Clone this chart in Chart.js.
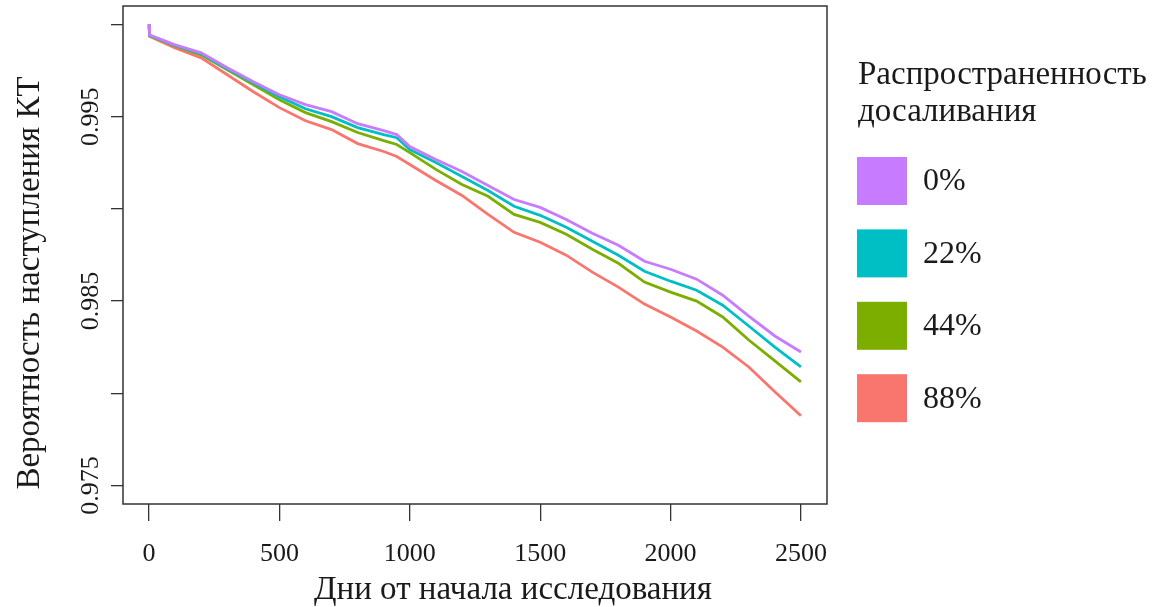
<!DOCTYPE html>
<html>
<head>
<meta charset="utf-8">
<title>Вероятность наступления КТ</title>
<script src="https://cdn.jsdelivr.net/npm/chart.js@4.4.0/dist/chart.umd.min.js"></script>
<style>
  html, body { margin: 0; padding: 0; background: #fff; }
  canvas { display: block; }
</style>
</head>
<body>
<canvas id="km-chart" width="1155" height="607"></canvas>
<script>
// -------- DATA -------- //
const days = [0, 2, 100, 200, 300, 400, 500, 600, 700, 800, 900, 950, 1000, 1100, 1200,
  1300, 1400, 1500, 1600, 1700, 1800, 1900, 2000, 2100, 2200, 2300, 2400, 2500];

const surv0 = [1.0, 0.99943, 0.99889, 0.99846, 0.99765, 0.99689, 0.99619, 0.99565, 0.99527,
  0.99462, 0.99424, 0.99403, 0.99338, 0.99268, 0.99203, 0.99127, 0.99051, 0.99008, 0.98943,
  0.98868, 0.98803, 0.98716, 0.98673, 0.98619, 0.98532, 0.98419, 0.98311, 0.98224];
const surv22 = [1.0, 0.99941, 0.99886, 0.99841, 0.99759, 0.99684, 0.99608, 0.99543, 0.99500,
  0.99441, 0.99403, 0.99386, 0.99322, 0.99251, 0.99176, 0.99100, 0.99014, 0.98965, 0.98900,
  0.98824, 0.98749, 0.98662, 0.98608, 0.98559, 0.98478, 0.98365, 0.98251, 0.98143];
const surv44 = [1.0, 0.99938, 0.99884, 0.99835, 0.99754, 0.99673, 0.99592, 0.99522, 0.99473,
  0.99414, 0.99370, 0.99349, 0.99305, 0.99214, 0.99132, 0.99068, 0.98970, 0.98927, 0.98862,
  0.98781, 0.98705, 0.98603, 0.98549, 0.98500, 0.98414, 0.98289, 0.98176, 0.98062];
const surv88 = [1.0, 0.99935, 0.99873, 0.99819, 0.99727, 0.99635, 0.99549, 0.99478, 0.99430,
  0.99354, 0.99311, 0.99284, 0.99241, 0.99154, 0.99073, 0.98970, 0.98873, 0.98819, 0.98749,
  0.98657, 0.98576, 0.98484, 0.98414, 0.98338, 0.98251, 0.98143, 0.98008, 0.97878];

const groupLabels = ['0%', '22%', '44%', '88%'];
const groupColors = ['#C77CFF', '#00BFC4', '#7CAE00', '#F8766D'];
const legendTitle = ['Распространенность', 'досаливания'];

const xTicks = [0, 500, 1000, 1500, 2000, 2500];
const yTicks = [0.975, 0.98, 0.985, 0.99, 0.995, 1.0];
const yTickLabels = ['0.975', '', '0.985', '', '0.995', ''];

const serif = '"Liberation Serif", "DejaVu Serif", serif';
const textColor = '#1a1a1a';
const frameColor = '#333';

// -------- FRAME, Y LABELS, TITLES, LEGEND -------- //
const decorations = {
  id: 'decorations',
  afterDraw(chart) {
    const { ctx, chartArea: a, scales } = chart;
    ctx.save();

    // box round the plot
    ctx.strokeStyle = frameColor;
    ctx.lineWidth = 1.5;
    ctx.strokeRect(a.left, a.top, a.right - a.left, a.bottom - a.top);

    ctx.fillStyle = textColor;
    ctx.textAlign = 'center';
    ctx.textBaseline = 'middle';

    // rotated y tick labels
    ctx.font = '26px ' + serif;
    yTicks.forEach((v, i) => {
      if (!yTickLabels[i]) return;
      const y = scales.y.getPixelForValue(v);
      ctx.save();
      ctx.translate(91, y);
      ctx.rotate(-Math.PI / 2);
      ctx.fillText(yTickLabels[i], 0, 0);
      ctx.restore();
    });

    // axis titles
    ctx.font = '33px ' + serif;
    ctx.fillText('Дни от начала исследования', 513, 590);
    ctx.save();
    ctx.translate(30, 283);
    ctx.rotate(-Math.PI / 2);
    ctx.fillText('Вероятность наступления КТ', 0, 0);
    ctx.restore();

    // legend
    ctx.textAlign = 'left';
    ctx.textBaseline = 'alphabetic';
    ctx.font = '33px ' + serif;
    ctx.fillText(legendTitle[0], 858, 84);
    ctx.fillText(legendTitle[1], 858, 121);

    ctx.font = '32px ' + serif;
    ctx.textBaseline = 'middle';
    chart.data.datasets.forEach((ds, i) => {
      const top = 157 + i * 72.4;
      ctx.fillStyle = ds.borderColor;
      ctx.fillRect(857, top, 50, 48);
      ctx.fillStyle = textColor;
      ctx.fillText(ds.label, 923, top + 25);
    });

    ctx.restore();
  }
};

// -------- SURVIVAL CURVES -------- //
const curves = [surv0, surv22, surv44, surv88];

const kmChart = new Chart(document.getElementById('km-chart'), {
  type: 'line',
  data: {
    datasets: curves.map((s, i) => ({
      label: groupLabels[i],
      data: days.map((d, k) => ({ x: d, y: s[k] })),
      borderColor: groupColors[i],
      backgroundColor: groupColors[i],
      borderWidth: 2.8,
      pointRadius: 0,
      tension: 0,
      fill: false
    }))
  },
  options: {
    responsive: false,
    animation: false,
    layout: {
      padding: { top: 6, right: 328, left: 0, bottom: 0 }
    },
    scales: {
      x: {
        type: 'linear',
        min: -100,
        max: 2600,
        afterBuildTicks: s => { s.ticks = xTicks.map(v => ({ value: v })); },
        afterFit: s => { s.height = 103; },
        ticks: {
          color: textColor,
          font: { family: serif, size: 26 },
          padding: 18,
          maxRotation: 0,
          autoSkip: false,
          callback: v => String(v)
        },
        grid: { drawOnChartArea: false, tickLength: 17, color: frameColor, lineWidth: 1.3 },
        border: { display: false }
      },
      y: {
        type: 'linear',
        min: 0.974,
        max: 1.001,
        afterBuildTicks: s => { s.ticks = yTicks.map(v => ({ value: v })); },
        afterFit: s => { s.width = 123; },
        ticks: { display: false },
        grid: { drawOnChartArea: false, tickLength: 12, color: frameColor, lineWidth: 1.3 },
        border: { display: false }
      }
    },
    plugins: {
      legend: { display: false },
      tooltip: { enabled: false }
    }
  },
  plugins: [decorations]
});
</script>
</body>
</html>
